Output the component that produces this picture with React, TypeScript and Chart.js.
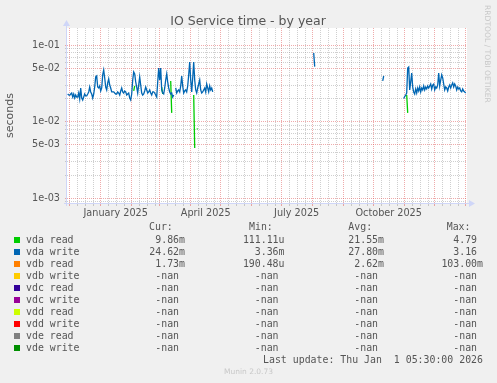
import React, { useEffect, useRef } from 'react';
import { Chart, registerables } from 'chart.js';

Chart.register(...registerables);

// ---------- data ----------
const TITLE = 'IO Service time - by year';
const Y_TITLE = 'seconds';

// x values are days counted from 2025-01-01 (day 0)
const X_MIN = -33.7;
const X_MAX = 366.3;
const Y_MIN = 0.000873;
const Y_MAX = 0.168;

const monthStartDays = [-31, 0, 31, 59, 90, 120, 151, 181, 212, 243, 273, 304, 334, 365];
const minorOffsetDays = [7.7, 15.4, 23.3];
const xLabelDays = [15, 105, 196, 288];
const xLabelTexts = ['January 2025', 'April 2025', 'July 2025', 'October 2025'];

const yTickValues = [
  0.0009, 0.001, 0.002, 0.003, 0.004, 0.005, 0.006, 0.007, 0.008, 0.009,
  0.01, 0.02, 0.03, 0.04, 0.05, 0.06, 0.07, 0.08, 0.09, 0.1,
];
const yMajorValues = [0.001, 0.005, 0.01, 0.05, 0.1];
const yMajorLabels = ['1e-03', '5e-03', '1e-02', '5e-02', '1e-01'];

// vda write (seconds), one value per day, segments start at the given day
const vdaWriteStarts = [-33, 75, 213, 282, 303];
const vdaWriteSegments = [
  [
    0.0231, 0.0224, 0.0222, 0.0231, 0.0238, 0.0211, 0.0231, 0.0205, 0.0224, 0.0211,
    0.0211, 0.0238, 0.0199, 0.0277, 0.0205, 0.0193, 0.0211, 0.0231, 0.0218, 0.0218,
    0.0231, 0.0246, 0.0285, 0.0246, 0.0231, 0.0205, 0.0231, 0.0285, 0.0386, 0.0397,
    0.0285, 0.0277, 0.0294, 0.0253, 0.0277, 0.0410, 0.0476, 0.0374, 0.0285, 0.0261,
    0.0322, 0.0363, 0.0303, 0.0277, 0.0246, 0.0246, 0.0246, 0.0238, 0.0231, 0.0231,
    0.0246, 0.0238, 0.0224, 0.0253, 0.0277, 0.0246, 0.0238, 0.0253, 0.0246, 0.0224,
    0.0231, 0.0238, 0.0205, 0.0193, 0.0231, 0.0352, 0.0448, 0.0422, 0.0332, 0.0285,
    0.0238, 0.0303, 0.0386, 0.0303, 0.0238, 0.0224, 0.0231, 0.0253, 0.0285, 0.0261,
    0.0238, 0.0246, 0.0261, 0.0238, 0.0224, 0.0246, 0.0246, 0.0238, 0.0224, 0.0211,
    0.0332, 0.0505, 0.0352, 0.0505, 0.0261, 0.0238, 0.0231, 0.0277, 0.0352, 0.0422,
    0.0332, 0.0277, 0.0246, 0.0231, 0.0238, 0.0211, 0.0224,
  ],
  [
    0.0277, 0.0238, 0.0253, 0.0261, 0.0246, 0.0294, 0.0397, 0.0294, 0.0238, 0.0253,
    0.0261, 0.0246, 0.0294, 0.0410, 0.0605, 0.0352, 0.0246, 0.0374, 0.0605, 0.0352,
    0.0261, 0.0238, 0.0277, 0.0312, 0.0352, 0.0261, 0.0238, 0.0246, 0.0261, 0.0277,
    0.0246, 0.0312, 0.0277, 0.0246, 0.0294, 0.0261, 0.0277, 0.0246,
  ],
  [0.0793, 0.0526],
  [0.0342, 0.0397],
  [
    0.0202, 0.0214, 0.0224, 0.0238, 0.0505, 0.0521, 0.0261, 0.0332, 0.0435, 0.0285,
    0.0246, 0.0231, 0.0269, 0.0238, 0.0277, 0.0253, 0.0285, 0.0246, 0.0277, 0.0261,
    0.0294, 0.0261, 0.0285, 0.0269, 0.0294, 0.0277, 0.0294, 0.0312, 0.0269, 0.0303,
    0.0312, 0.0261, 0.0285, 0.0277, 0.0303, 0.0435, 0.0294, 0.0352, 0.0410, 0.0374,
    0.0312, 0.0261, 0.0285, 0.0277, 0.0253, 0.0285, 0.0303, 0.0277, 0.0303, 0.0322,
    0.0285, 0.0312, 0.0294, 0.0261, 0.0285, 0.0269, 0.0277, 0.0253, 0.0246, 0.0269,
    0.0253, 0.0246, 0.0238,
  ],
];

// vda read (seconds), only where it is visible
const vdaReadStarts = [33, 61, 70, 93, 96, 306];
const vdaReadSegments = [
  [0.0253, 0.0294],
  [0.0285, 0.0231],
  [0.0342, 0.0131],
  [0.0224, 0.00456],
  [0.00808, 0.00808],
  [0.0224, 0.0131],
];

// legend table
const legendNames = ['vda read', 'vda write', 'vdb read', 'vdb write', 'vdc read', 'vdc write', 'vdd read', 'vdd write', 'vde read', 'vde write'];
const legendColors = ['#00CC00', '#0066B3', '#FF8000', '#FFCC00', '#330099', '#990099', '#CCFF00', '#FF0000', '#808080', '#008F00'];
const curValues = ['9.86m', '24.62m', '1.73m', '-nan ', '-nan ', '-nan ', '-nan ', '-nan ', '-nan ', '-nan '];
const minValues = ['111.11u', '3.36m', '190.48u', '-nan ', '-nan ', '-nan ', '-nan ', '-nan ', '-nan ', '-nan '];
const avgValues = ['21.55m', '27.80m', '2.62m', '-nan ', '-nan ', '-nan ', '-nan ', '-nan ', '-nan ', '-nan '];
const maxValues = ['4.79 ', '3.16 ', '103.00m', '-nan ', '-nan ', '-nan ', '-nan ', '-nan ', '-nan ', '-nan '];
const headers = ['Cur:', 'Min:', 'Avg:', 'Max:'];
const LAST_UPDATE = 'Last update: Thu Jan  1 05:30:00 2026';
const FOOTER = 'Munin 2.0.73';
const WATERMARK = 'RRDTOOL / TOBI OETIKER';

// ---------- helpers ----------
function buildPoints(starts: number[], segments: number[][]) {
  const pts: { x: number; y: number | null }[] = [];
  segments.forEach((seg, si) => {
    seg.forEach((v, i) => pts.push({ x: starts[si] + i, y: v }));
    pts.push({ x: starts[si] + seg.length - 0.5, y: null });
  });
  return pts;
}

const minorDays: number[] = [];
monthStartDays.forEach((m) => minorOffsetDays.forEach((o) => {
  const d = m + o;
  if (d > X_MIN && d < X_MAX) minorDays.push(d);
}));
const xTickDays = [...monthStartDays, ...minorDays, ...xLabelDays].sort((a, b) => a - b);

const FONT = "'DejaVu Sans', sans-serif";
const MONO = "'DejaVu Sans Mono', monospace";
const TEXT = '#555555';
const GRID_MINOR = 'rgba(140,140,140,0.42)';
const GRID_MAJOR = 'rgba(222,79,79,0.48)';
const AXIS = '#CFD6F8';

const rrdPlugin = {
  id: 'rrdFrame',
  beforeDraw(chart: any) {
    const { ctx, chartArea: a } = chart;
    ctx.save();
    ctx.fillStyle = '#F0F0F0';
    ctx.fillRect(0, 0, chart.width, chart.height);
    ctx.fillStyle = '#FFFFFF';
    ctx.fillRect(a.left, a.top, a.right - a.left, a.bottom - a.top);
    ctx.restore();
  },
  afterDatasetsDraw(chart: any) {
    const { ctx, chartArea: a } = chart;
    ctx.save();
    ctx.strokeStyle = AXIS;
    ctx.fillStyle = AXIS;
    ctx.lineWidth = 1;
    const yb = Math.round(a.bottom) + 0.5;
    const xl = Math.round(a.left) - 0.5;
    ctx.beginPath();
    ctx.moveTo(a.left - 3, yb);
    ctx.lineTo(a.right + 3, yb);
    ctx.moveTo(xl, a.bottom + 3);
    ctx.lineTo(xl, a.top - 3);
    ctx.stroke();
    ctx.beginPath();
    ctx.moveTo(a.right + 2, yb - 3.5);
    ctx.lineTo(a.right + 8, yb);
    ctx.lineTo(a.right + 2, yb + 3.5);
    ctx.closePath();
    ctx.fill();
    ctx.beginPath();
    ctx.moveTo(xl - 3.5, a.top - 2);
    ctx.lineTo(xl, a.top - 8);
    ctx.lineTo(xl + 3.5, a.top - 2);
    ctx.closePath();
    ctx.fill();
    ctx.restore();
  },
};

export default function App() {
  const canvasRef = useRef<HTMLCanvasElement | null>(null);

  useEffect(() => {
    document.body.style.background = '#F0F0F0';
    const canvas = canvasRef.current;
    if (!canvas) return;
    const xGridColor = (c: any) => {
      const v = c.tick ? c.tick.value : null;
      if (xLabelDays.indexOf(v) >= 0) return 'rgba(0,0,0,0)';
      if (monthStartDays.indexOf(v) >= 0) return GRID_MAJOR;
      return GRID_MINOR;
    };
    const yGridColor = (c: any) => {
      const v = c.tick ? c.tick.value : null;
      return yMajorValues.indexOf(v) >= 0 ? GRID_MAJOR : GRID_MINOR;
    };
    const chart = new Chart(canvas, {
      type: 'line',
      data: {
        datasets: [
          {
            label: 'vda write',
            data: buildPoints(vdaWriteStarts, vdaWriteSegments),
            borderColor: '#0066B3',
            backgroundColor: '#0066B3',
            borderWidth: 1.3,
            pointRadius: 0,
            spanGaps: false,
            order: 0,
          },
          {
            label: 'vda read',
            data: buildPoints(vdaReadStarts, vdaReadSegments),
            borderColor: '#00CC00',
            backgroundColor: '#00CC00',
            borderWidth: 1.3,
            pointRadius: 0,
            spanGaps: false,
            order: 1,
          },
        ],
      },
      options: {
        responsive: false,
        animation: false,
        devicePixelRatio: 1,
        parsing: false as any,
        layout: { padding: { left: 0, right: 30, top: 28, bottom: 0 } },
        plugins: {
          legend: { display: false },
          tooltip: { enabled: false },
          title: { display: false },
        },
        scales: {
          x: {
            type: 'linear',
            min: X_MIN,
            max: X_MAX,
            afterBuildTicks: (s: any) => {
              s.ticks = xTickDays.map((v) => ({ value: v }));
            },
            afterFit: (s: any) => {
              s.height = 180;
            },
            grid: {
              color: xGridColor,
              tickColor: xGridColor,
              lineWidth: 1,
              drawTicks: true,
              tickLength: 3,
            },
            border: { display: false, dash: [1, 1] },
            ticks: {
              autoSkip: false,
              maxRotation: 0,
              minRotation: 0,
              padding: 2,
              color: TEXT,
              font: { family: FONT, size: 9.7 },
              callback: (v: any) => {
                const i = xLabelDays.indexOf(v);
                return i >= 0 ? xLabelTexts[i] : '';
              },
            },
          },
          y: {
            type: 'logarithmic',
            min: Y_MIN,
            max: Y_MAX,
            afterBuildTicks: (s: any) => {
              s.ticks = yTickValues.map((v) => ({ value: v }));
            },
            afterFit: (s: any) => {
              s.width = 67;
            },
            grid: {
              color: yGridColor,
              tickColor: yGridColor,
              lineWidth: 1,
              drawTicks: true,
              tickLength: 2,
            },
            border: { display: false, dash: [1, 1] },
            ticks: {
              autoSkip: false,
              padding: 5,
              color: TEXT,
              font: { family: FONT, size: 9.7 },
              callback: (v: any) => {
                const i = yMajorValues.indexOf(v);
                return i >= 0 ? yMajorLabels[i] : '';
              },
            },
            title: {
              display: true,
              text: Y_TITLE,
              color: TEXT,
              font: { family: FONT, size: 11 },
              padding: { top: 4, bottom: 0 },
            },
          },
        },
      } as any,
      plugins: [rrdPlugin],
    });
    return () => chart.destroy();
  }, []);

  const abs = (extra: React.CSSProperties): React.CSSProperties => ({
    position: 'absolute',
    whiteSpace: 'pre',
    lineHeight: '12px',
    fontFamily: MONO,
    fontSize: '9.9px',
    color: TEXT,
    ...extra,
  });
  const valueCols = [curValues, minValues, avgValues, maxValues];
  const valueRight = [185, 284.5, 384, 483];
  const headerLeft = [149, 249, 348.3, 446.7];

  return (
    <div style={{ position: 'absolute', left: 0, top: 0, width: 497, height: 383, background: '#F0F0F0', overflow: 'hidden' }}>
      <canvas ref={canvasRef} width={497} height={383} style={{ position: 'absolute', left: 0, top: 0, width: 497, height: 383 }} />
      <div style={{ position: 'absolute', left: 148, width: 200, top: 12.5, textAlign: 'center', fontFamily: FONT, fontSize: '12.5px', lineHeight: '15px', color: TEXT, whiteSpace: 'pre' }}>{TITLE}</div>
      {headers.map((h, i) => (
        <div key={'h' + i} style={abs({ left: headerLeft[i], top: 221.3 })}>{h}</div>
      ))}
      {legendNames.map((name, r) => (
        <React.Fragment key={name}>
          <div style={{ position: 'absolute', left: 14, top: 237 + r * 12, width: 6, height: 6, background: legendColors[r] }} />
          <div style={abs({ left: 26, top: 234 + r * 12 })}>{name}</div>
          {valueCols.map((col, c) => (
            <div key={c} style={abs({ right: 497 - valueRight[c], top: 234 + r * 12, textAlign: 'right' })}>{col[r]}</div>
          ))}
        </React.Fragment>
      ))}
      <div style={abs({ right: 497 - 483, top: 353.7, textAlign: 'right' })}>{LAST_UPDATE}</div>
      <div style={{ position: 'absolute', left: 0, width: 497, top: 367, textAlign: 'center', fontFamily: FONT, fontSize: '7.5px', lineHeight: '10px', color: '#C8C8C8' }}>{FOOTER}</div>
      <div style={{ position: 'absolute', left: 483, top: 5, writingMode: 'vertical-rl', fontFamily: FONT, fontSize: '7.6px', lineHeight: '8px', color: '#C8C8C8', whiteSpace: 'pre' }}>{WATERMARK}</div>
    </div>
  );
}
